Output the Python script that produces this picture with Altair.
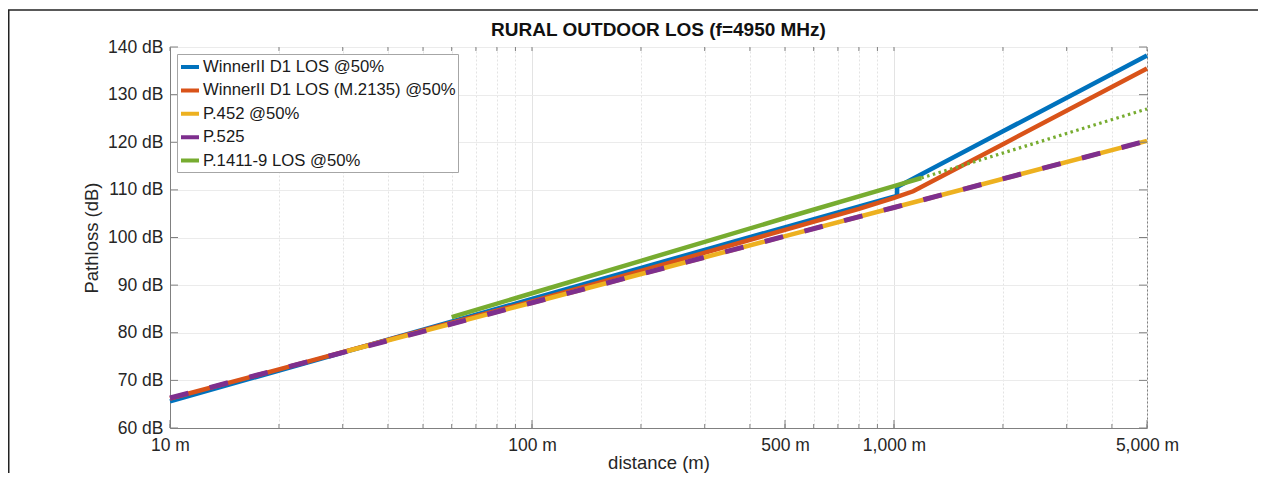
import altair as alt
import pandas as pd

# ---------------- data ----------------
series_names = [
    "WinnerII D1 LOS @50%",
    "WinnerII D1 LOS (M.2135) @50%",
    "P.452 @50%",
    "P.525",
    "P.1411-9 LOS @50%",
]
series_colors = ["#0072BD", "#D95319", "#EDB120", "#7E2F8E", "#77AC30"]

blue_d = [10, 100, 300, 1000, 1020, 1020, 2000, 5000]
blue_pl = [65.6, 87.1, 97.4, 108.6, 108.8, 110.6, 122.3, 138.2]

orange_d = [10, 20, 50, 100, 200, 500, 800, 1000, 1130, 2000, 5000]
orange_pl = [66.2, 72.3, 80.5, 86.6, 93.0, 101.6, 106.0, 108.3, 109.7, 119.6, 135.5]

yellow_d = [30, 100, 1000, 5000]
yellow_pl = [75.9, 86.3, 106.3, 120.3]

purple_d = [10, 100, 1000, 5000]
purple_pl = [66.3, 86.3, 106.3, 120.3]

green_d = [60, 100, 200, 500, 1000, 1190]
green_pl = [83.3, 88.3, 95.1, 104.1, 110.8, 112.5]

green_ext_d = [1190, 5000]
green_ext_pl = [112.5, 127.0]

x_ticks = [10, 20, 30, 40, 50, 60, 70, 80, 90,
           100, 200, 300, 400, 500, 600, 700, 800, 900,
           1000, 2000, 3000, 4000, 5000]
x_labeled = [10, 100, 500, 1000, 5000]
y_ticks = [60, 70, 80, 90, 100, 110, 120, 130, 140]

W, H = 977, 381
FONT = "Liberation Sans"
AXIS_GRAY = "#808080"


def frame(name, d, pl):
    return pd.DataFrame({"series": name, "d": d, "pl": pl, "k": range(len(d))})


df_blue = frame(series_names[0], blue_d, blue_pl)
df_orange = frame(series_names[1], orange_d, orange_pl)
df_yellow = frame(series_names[2], yellow_d, yellow_pl)
df_purple = frame(series_names[3], purple_d, purple_pl)
df_green = frame(series_names[4], green_d, green_pl)
df_green_ext = frame("ext", green_ext_d, green_ext_pl)

xscale = alt.Scale(type="log", domain=[10, 5000], nice=False)
yscale = alt.Scale(domain=[60, 140], nice=False, zero=False)

labeled_test = "indexof([" + ",".join(str(v) for v in x_labeled) + "], datum.value) >= 0"
major_test = "indexof([10,100,1000], datum.value) >= 0"

x_axis = alt.Axis(
    values=x_ticks,
    title="distance (m)",
    labelExpr="(" + labeled_test + ") ? format(datum.value, ',') + ' m' : ''",
    labelOverlap=False,
    labelFlush=False,
    labelBound=False,
    ticks=False,
    grid=True,
    gridColor="#e3e3e3",
    gridDash={"condition": {"test": major_test, "value": []}, "value": [2, 2]},
    labelPadding=8,
    titlePadding=0,
)
y_axis = alt.Axis(
    values=y_ticks,
    title="Pathloss (dB)",
    labelExpr="datum.value + ' dB'",
    ticks=False,
    grid=True,
    gridColor="#ebebeb",
    labelPadding=7,
    titlePadding=6,
)

color = alt.Color(
    "series:N",
    scale=alt.Scale(domain=series_names, range=series_colors),
    legend=alt.Legend(
        title=None,
        orient="top-left",
        offset=7,
        padding=2,
        fillColor="white",
        strokeColor="#a6a6a6",
        symbolType="stroke",
        symbolSize=324,
        symbolStrokeWidth=4,
        symbolDash=[1, 0],
        labelFontSize=16.7,
        labelFont=FONT,
        labelColor="#1a1a1a",
        labelOffset=2,
        labelLimit=500,
        rowPadding=3.4,
    ),
)


def series_layer(df, **mark_kw):
    return alt.Chart(df).mark_line(**mark_kw).encode(
        x=alt.X("d:Q", scale=xscale, axis=x_axis),
        y=alt.Y("pl:Q", scale=yscale, axis=y_axis),
        color=color,
        order="k:Q",
    )


blue = series_layer(df_blue, strokeWidth=4.5)
orange = series_layer(df_orange, strokeWidth=4.5)
yellow = series_layer(df_yellow, strokeWidth=4.5)
purple = series_layer(df_purple, strokeWidth=5, strokeDash=[19, 22])
green = series_layer(df_green, strokeWidth=4.5)
green_ext = alt.Chart(df_green_ext).mark_line(
    strokeWidth=3.2, strokeDash=[2.5, 3.5], color=series_colors[4]
).encode(
    x=alt.X("d:Q", scale=xscale, axis=x_axis),
    y=alt.Y("pl:Q", scale=yscale, axis=y_axis),
    order="k:Q",
)

# inward tick marks (MATLAB style) on all four sides
df_xt = pd.DataFrame({"t": x_ticks, "len": [8 if v in x_labeled else 4 for v in x_ticks]})
df_yt = pd.DataFrame({"t": y_ticks})

xt_bottom = alt.Chart(df_xt).mark_rule(color=AXIS_GRAY, strokeWidth=1).encode(
    x=alt.X("t:Q", scale=xscale, axis=x_axis),
    y=alt.value(H),
    y2=alt.value(H - 4),
)
xt_bottom_major = alt.Chart(df_xt[df_xt["len"] == 8]).mark_rule(color=AXIS_GRAY, strokeWidth=1).encode(
    x=alt.X("t:Q", scale=xscale, axis=x_axis),
    y=alt.value(H),
    y2=alt.value(H - 8),
)
xt_top = alt.Chart(df_xt).mark_rule(color=AXIS_GRAY, strokeWidth=1).encode(
    x=alt.X("t:Q", scale=xscale, axis=x_axis),
    y=alt.value(0),
    y2=alt.value(4),
)
yt_left = alt.Chart(df_yt).mark_rule(color=AXIS_GRAY, strokeWidth=1).encode(
    y=alt.Y("t:Q", scale=yscale, axis=y_axis),
    x=alt.value(0),
    x2=alt.value(8),
)
yt_right = alt.Chart(df_yt).mark_rule(color=AXIS_GRAY, strokeWidth=1).encode(
    y=alt.Y("t:Q", scale=yscale, axis=y_axis),
    x=alt.value(W),
    x2=alt.value(W - 8),
)

# outer figure frame (top and left edges)
frame_top = alt.Chart(alt.Data(values=[{}])).mark_rule(color="#222222", strokeWidth=1.5).encode(
    x=alt.value(-162), x2=alt.value(W + 111), y=alt.value(-37)
)
frame_left = alt.Chart(alt.Data(values=[{}])).mark_rule(color="#222222", strokeWidth=1.5).encode(
    x=alt.value(-161.25), y=alt.value(-37), y2=alt.value(H + 50)
)

chart = (
    alt.layer(
        blue, orange, yellow, purple, green, green_ext,
        xt_bottom, xt_bottom_major, xt_top, yt_left, yt_right,
        frame_top, frame_left,
    )
    .properties(
        width=W,
        height=H,
        title=alt.Title(
            "RURAL OUTDOOR LOS (f=4950 MHz)",
            font=FONT,
            fontSize=19,
            fontWeight="bold",
            color="#111111",
            anchor="middle",
            frame="group",
            offset=-31,
        ),
        autosize=alt.AutoSizeParams(type="none"),
        padding={"left": 162, "top": 39, "right": 111, "bottom": 45},
    )
    .configure_view(stroke=AXIS_GRAY, strokeWidth=1)
    .configure_axis(
        labelFont=FONT,
        titleFont=FONT,
        labelFontSize=17.5,
        titleFontSize=18.5,
        titleFontWeight="normal",
        labelColor="#262626",
        titleColor="#262626",
        domainColor=AXIS_GRAY,
    )
)

chart.save("out.html", embed_options={"renderer": "svg", "actions": False})
